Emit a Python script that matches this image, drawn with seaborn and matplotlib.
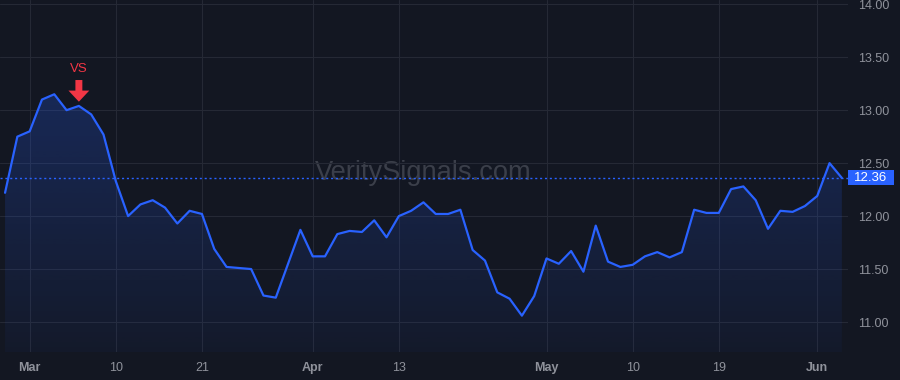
import numpy as np
import pandas as pd
import matplotlib
matplotlib.use("Agg")
import matplotlib.pyplot as plt
from matplotlib.patches import Rectangle
import seaborn as sns

# ---- data ----
prices = [12.22, 12.75, 12.80, 13.10, 13.15, 13.00, 13.04, 12.96, 12.77, 12.33,
          12.00, 12.11, 12.15, 12.08, 11.93, 12.05, 12.02, 11.69, 11.52, 11.51,
          11.50, 11.25, 11.23, 11.55, 11.87, 11.62, 11.62, 11.83, 11.86, 11.85,
          11.96, 11.80, 12.00, 12.05, 12.13, 12.02, 12.02, 12.06, 11.68, 11.58,
          11.28, 11.22, 11.06, 11.245, 11.60, 11.55, 11.67, 11.475, 11.91, 11.57,
          11.52, 11.54, 11.62, 11.66, 11.61, 11.66, 12.06, 12.03, 12.03, 12.255,
          12.28, 12.15, 11.88, 12.05, 12.04, 12.095, 12.19, 12.50, 12.36]
tick_pos = [2, 9, 16, 25, 32, 44, 51, 58, 66]
tick_labels = ["Mar", "10", "21", "Apr", "13", "May", "10", "19", "Jun"]
month_labels = {"Mar", "Apr", "May", "Jun"}
y_ticks = [11.0, 11.5, 12.0, 12.5, 13.0, 13.5, 14.0]
last_price = 12.36
signal_index = 6
signal_label = "VS"
watermark = "VeritySignals.com"

df = pd.DataFrame({"i": np.arange(len(prices)), "price": prices})

BG = "#131722"
BLUE = "#2962ff"
GRID = "#252935"
TXT = "#8f929b"
RED = "#f23645"

sns.set_style("dark")
plt.rcParams["font.family"] = ["Liberation Sans", "DejaVu Sans"]

fig = plt.figure(figsize=(9, 3.8), dpi=100, facecolor=BG)
ax = fig.add_axes([0, 28 / 380, 848 / 900, 352 / 380])
ax.set_facecolor(BG)

xmin, xmax = -0.41, 68.5
ymin, ymax = 10.717, 14.04

# gradient area fill
poly = ax.fill_between(df["i"], df["price"], ymin, color="none", lw=0)
n = 256
grad = np.zeros((n, 1, 4))
rgb = matplotlib.colors.to_rgb(BLUE)
grad[:, 0, :3] = rgb
grad[:, 0, 3] = np.linspace(0.04, 0.24, n)
im = ax.imshow(grad, extent=[xmin, xmax, ymin, 13.2], aspect="auto",
               origin="lower", zorder=1, interpolation="bilinear")
im.set_clip_path(poly.get_paths()[0], transform=ax.transData)

sns.lineplot(data=df, x="i", y="price", ax=ax, color=BLUE, lw=1.6, zorder=3)

ax.axhline(last_price, color=BLUE, lw=1.0, ls=(0, (1.5, 2)), zorder=2)

ax.set_xlim(xmin, xmax)
ax.set_ylim(ymin, ymax)

ax.set_xticks(tick_pos)
ax.set_xticklabels(tick_labels)
for lab in ax.get_xticklabels():
    if lab.get_text() in month_labels:
        lab.set_fontweight("bold")
ax.set_yticks(y_ticks)
ax.set_yticklabels([f"{v:.2f}" for v in y_ticks])
ax.yaxis.tick_right()
ax.tick_params(axis="x", length=0, pad=7, labelsize=9, colors=TXT)
ax.tick_params(axis="y", length=0, pad=7, labelsize=9, colors=TXT)
ax.set_xlabel("")
ax.set_ylabel("")
ax.grid(True, color=GRID, lw=0.8)
ax.set_axisbelow(True)
for s in ax.spines.values():
    s.set_visible(False)

# watermark
ax.text(0.499, 0.509, watermark, transform=ax.transAxes, ha="center", va="center",
        fontsize=19.6, color="#3b3f4a", zorder=0.5)

# signal arrow
tip_y = prices[signal_index] + 0.04
ax.annotate("", xy=(signal_index, tip_y), xytext=(0, 15.6), textcoords="offset points",
            arrowprops=dict(width=5, headwidth=15, headlength=8, shrink=0,
                            color=RED, lw=0), zorder=5)
ax.annotate(signal_label, xy=(signal_index, tip_y), xytext=(0, 19), textcoords="offset points",
            ha="center", va="bottom", color=RED, fontsize=9.5, zorder=5)

# price label box
fig.canvas.draw()
ydisp = ax.transData.transform((0, last_price))[1]
yf = ydisp / fig.bbox.height
h = 15 / 380
fig.patches.append(Rectangle((848 / 900, yf - h / 2), 46 / 900, h, transform=fig.transFigure,
                             facecolor=BLUE, edgecolor="none", zorder=10))
fig.text(871 / 900, yf, f"{last_price:.2f}", ha="center", va="center", color="white",
         fontsize=9.5, zorder=11)

fig.savefig("out.png", dpi=100, facecolor=BG)
